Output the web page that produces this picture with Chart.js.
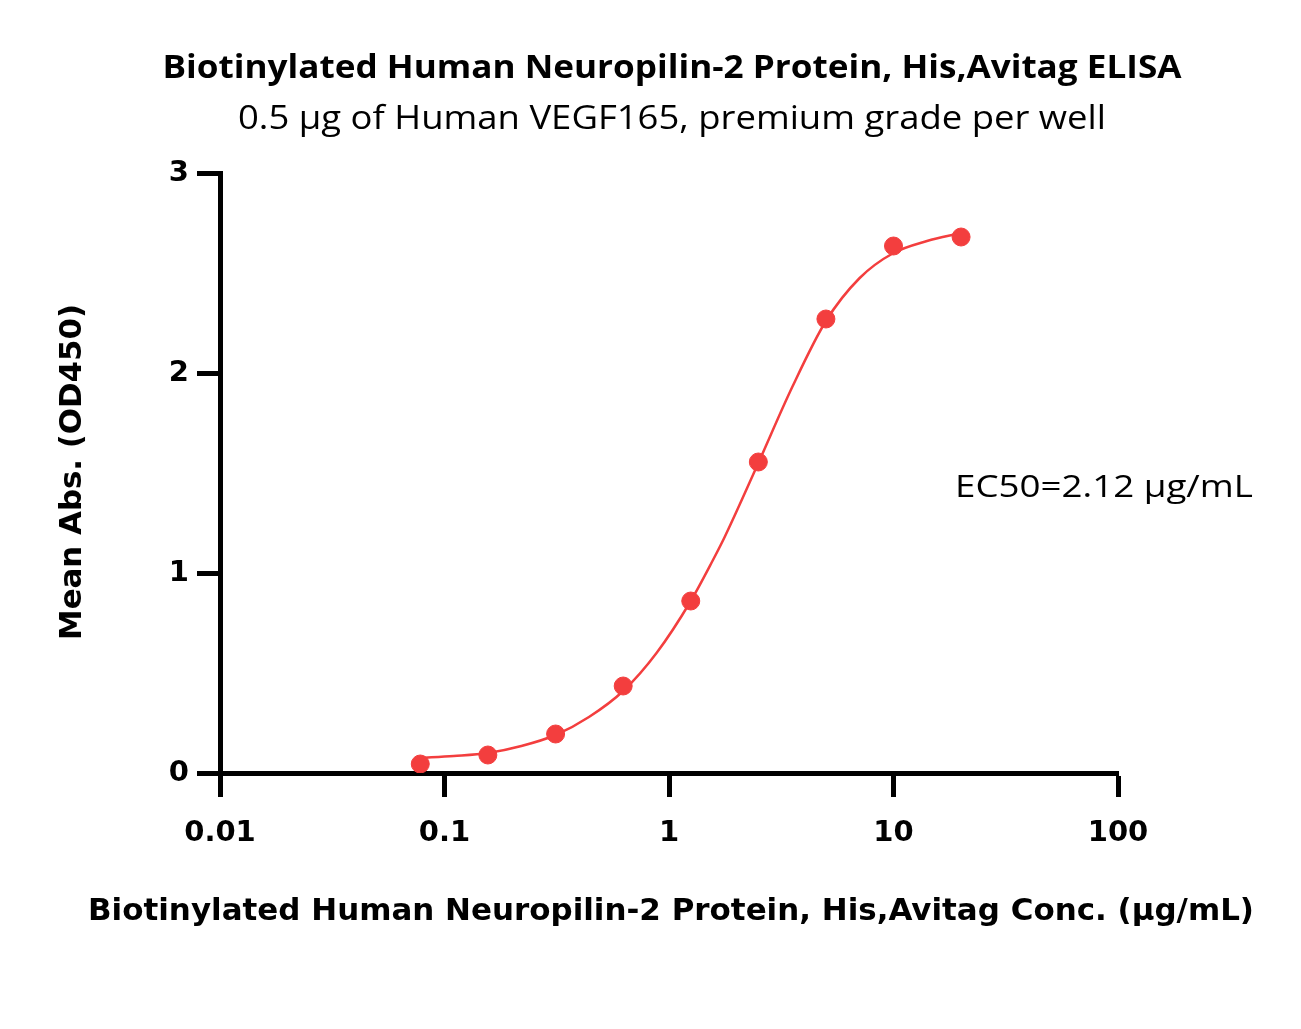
<!DOCTYPE html>
<html>
<head>
<meta charset="utf-8">
<script src="https://cdn.jsdelivr.net/npm/chart.js@4/dist/chart.umd.min.js"></script>
<style>
html,body{margin:0;padding:0;background:#fff;}
#wrap{width:1301px;height:1029px;}
</style>
</head>
<body>
<div id="wrap"><canvas id="c" width="1301" height="1029"></canvas></div>
<script>
// Measured points
const concentrations = [0.078, 0.156, 0.3125, 0.625, 1.25, 2.5, 5, 10, 20];
const meanAbs = [0.045, 0.09, 0.195, 0.435, 0.86, 1.555, 2.27, 2.635, 2.68];
// Fitted curve
const curveX = [0.078, 0.11, 0.156, 0.22, 0.3125, 0.44, 0.625, 0.88, 1.25, 1.57, 1.77, 2.5, 3.54, 5, 7.07, 10, 14.1, 20];
const curveY = [0.075, 0.085, 0.10, 0.135, 0.19, 0.28, 0.41, 0.60, 0.86, 1.065, 1.18, 1.55, 1.93, 2.26, 2.475, 2.60, 2.66, 2.70];
const xTickValues = [0.01, 0.1, 1, 10, 100];
const xTickLabels = ['0.01', '0.1', '1', '10', '100'];
const yTickValues = [0, 1, 2, 3];

const titleText = 'Biotinylated Human Neuropilin-2 Protein, His,Avitag ELISA';
const subtitleText = '0.5 \u03bcg of Human VEGF165, premium grade per well';
const xTitle = 'Biotinylated Human Neuropilin-2 Protein, His,Avitag Conc. (\u03bcg/mL)';
const yTitle = 'Mean Abs. (OD450)';
const ec50Text = 'EC50=2.12 \u03bcg/mL';

const red = 'rgb(243,62,62)';

function drawFit(ctx, text, x, y, font, width, align) {
  ctx.save();
  ctx.font = font;
  const w = ctx.measureText(text).width;
  const s = width / w;
  ctx.translate(x, y);
  ctx.scale(s, 1);
  ctx.textAlign = align;
  ctx.textBaseline = 'middle';
  ctx.fillText(text, 0, 0);
  ctx.restore();
}

const textPlugin = {
  id: 'texts',
  afterDraw(chart) {
    const ctx = chart.ctx;
    const ca = chart.chartArea;
    ctx.save();
    ctx.fillStyle = '#000';
    drawFit(ctx, titleText, 672, 69, 'bold 32px "Open Sans"', 1019, 'center');
    drawFit(ctx, subtitleText, 672, 120, '32px "Open Sans"', 868, 'center');
    drawFit(ctx, ec50Text, 955, 488, '31px "Open Sans"', 298, 'left');
    drawFit(ctx, xTitle, 671, 912, 'bold 30px "DejaVu Sans"', 1166, 'center');
    ctx.translate(73, 472);
    ctx.rotate(-Math.PI / 2);
    drawFit(ctx, yTitle, 0, 0, 'bold 30px "DejaVu Sans"', 336, 'center');
    ctx.restore();
  }
};

new Chart(document.getElementById('c'), {
  type: 'scatter',
  data: {
    datasets: [
      {
        type: 'line',
        data: curveX.map((x, i) => ({x: x, y: curveY[i]})),
        borderColor: red,
        borderWidth: 2.5,
        pointRadius: 0,
        fill: false,
        cubicInterpolationMode: 'monotone',
        order: 2
      },
      {
        type: 'scatter',
        data: concentrations.map((x, i) => ({x: x, y: meanAbs[i]})),
        backgroundColor: red,
        borderColor: red,
        pointRadius: 9,
        pointHoverRadius: 9,
        order: 1
      }
    ]
  },
  options: {
    responsive: false,
    animation: false,
    events: [],
    layout: { padding: { top: 173, right: 183, left: 0, bottom: 0 } },
    plugins: { legend: { display: false }, tooltip: { enabled: false }, title: { display: false } },
    scales: {
      x: {
        type: 'logarithmic',
        min: 0.01,
        max: 100,
        afterBuildTicks(scale) { scale.ticks = xTickValues.map(v => ({value: v})); },
        afterFit(scale) { scale.height = 256; },
        ticks: {
          callback(v) { const i = xTickValues.indexOf(v); return i >= 0 ? xTickLabels[i] : ''; },
          font: { family: 'DejaVu Sans', weight: 'bold', size: 29 },
          color: '#000',
          padding: 19,
          maxRotation: 0,
          autoSkip: false
        },
        grid: { display: true, drawOnChartArea: false, drawTicks: true, tickLength: 24, tickWidth: 5, tickColor: '#000' },
        border: { display: true, width: 5, color: '#000' }
      },
      y: {
        type: 'linear',
        min: 0,
        max: 3,
        afterBuildTicks(scale) { scale.ticks = yTickValues.map(v => ({value: v})); },
        afterFit(scale) { scale.width = 220; },
        ticks: {
          font: { family: 'DejaVu Sans', weight: 'bold', size: 29 },
          color: '#000',
          padding: 8
        },
        grid: { display: true, drawOnChartArea: false, drawTicks: true, tickLength: 23, tickWidth: 5, tickColor: '#000' },
        border: { display: true, width: 5, color: '#000' }
      }
    }
  },
  plugins: [textPlugin]
});
</script>
</body>
</html>
